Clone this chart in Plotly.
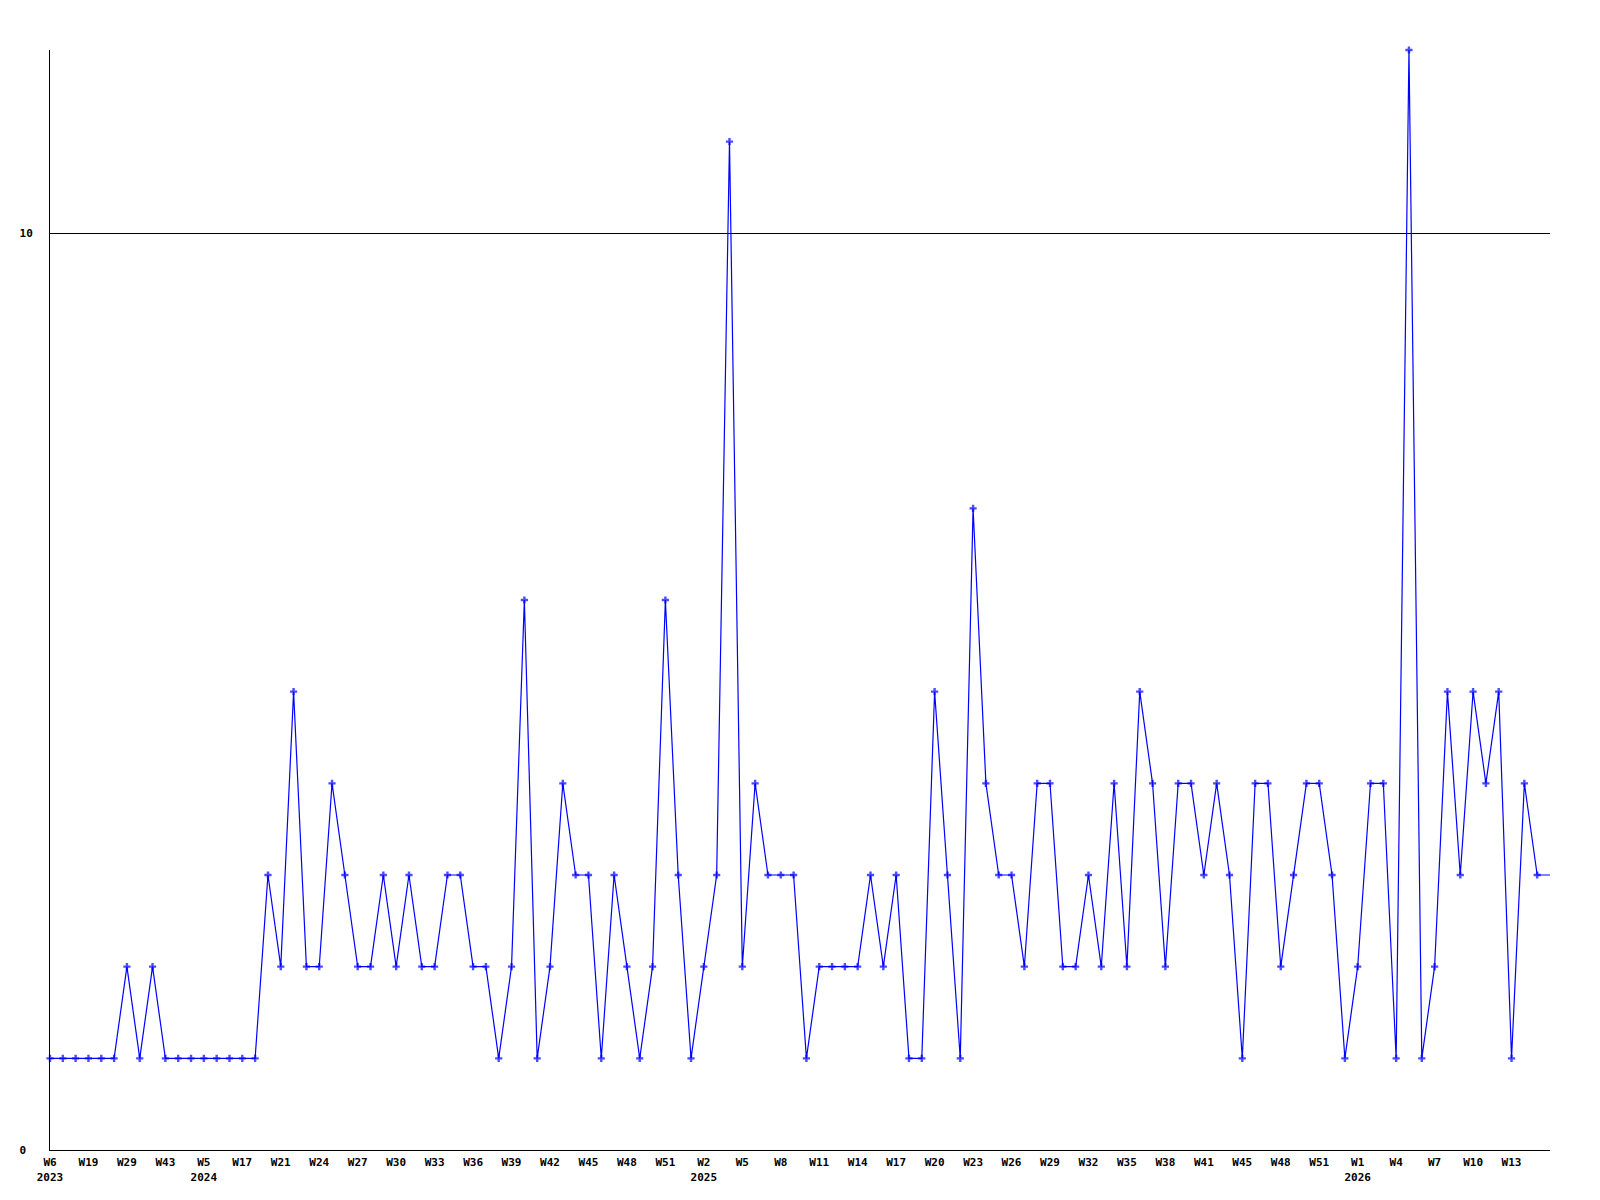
import plotly.graph_objects as go

weeks = [
    "2023-W06", "2023-W11", "2023-W15", "2023-W19", "2023-W22", "2023-W25",
    "2023-W29", "2023-W33", "2023-W38", "2023-W43", "2023-W47", "2023-W50",
    "2024-W05", "2024-W09", "2024-W13", "2024-W17", "2024-W19", "2024-W20",
    "2024-W21", "2024-W22", "2024-W23", "2024-W24", "2024-W25", "2024-W26",
    "2024-W27", "2024-W28", "2024-W29", "2024-W30", "2024-W31", "2024-W32",
    "2024-W33", "2024-W34", "2024-W35", "2024-W36", "2024-W37", "2024-W38",
    "2024-W39", "2024-W40", "2024-W41", "2024-W42", "2024-W43", "2024-W44",
    "2024-W45", "2024-W46", "2024-W47", "2024-W48", "2024-W49", "2024-W50",
    "2024-W51", "2024-W52",
    "2025-W01", "2025-W02", "2025-W03", "2025-W04", "2025-W05", "2025-W06",
    "2025-W07", "2025-W08", "2025-W09", "2025-W10", "2025-W11", "2025-W12",
    "2025-W13", "2025-W14", "2025-W15", "2025-W16", "2025-W17", "2025-W18",
    "2025-W19", "2025-W20", "2025-W21", "2025-W22", "2025-W23", "2025-W24",
    "2025-W25", "2025-W26", "2025-W27", "2025-W28", "2025-W29", "2025-W30",
    "2025-W31", "2025-W32", "2025-W33", "2025-W34", "2025-W35", "2025-W36",
    "2025-W37", "2025-W38", "2025-W39", "2025-W40", "2025-W41", "2025-W42",
    "2025-W44", "2025-W45", "2025-W46", "2025-W47", "2025-W48", "2025-W49",
    "2025-W50", "2025-W51", "2025-W52", "2025-W53",
    "2026-W01", "2026-W02", "2026-W03", "2026-W04", "2026-W05", "2026-W06",
    "2026-W07", "2026-W08", "2026-W09", "2026-W10", "2026-W11", "2026-W12",
    "2026-W13", "2026-W14", "2026-W15", "2026-W16",
]

counts = [
    1, 1, 1, 1, 1, 1, 2, 1, 2, 1,
    1, 1, 1, 1, 1, 1, 1, 3, 2, 5,
    2, 2, 4, 3, 2, 2, 3, 2, 3, 2,
    2, 3, 3, 2, 2, 1, 2, 6, 1, 2,
    4, 3, 3, 1, 3, 2, 1, 2, 6, 3,
    1, 2, 3, 11, 2, 4, 3, 3, 3, 1,
    2, 2, 2, 2, 3, 2, 3, 1, 1, 5,
    3, 1, 7, 4, 3, 3, 2, 4, 4,
    2, 2, 3, 2, 4, 2, 5, 4, 2, 4,
    4, 3, 4, 3, 1, 4, 4, 2, 3, 4,
    4, 3, 1, 2, 4, 4, 1, 12, 1, 2,
    5, 3, 5, 4, 5, 1, 4, 3, 3,
]

tick_weeks = [
    "2023-W06", "2023-W19", "2023-W29", "2023-W43", "2024-W05", "2024-W17",
    "2024-W21", "2024-W24", "2024-W27", "2024-W30", "2024-W33", "2024-W36",
    "2024-W39", "2024-W42", "2024-W45", "2024-W48", "2024-W51", "2025-W02",
    "2025-W05", "2025-W08", "2025-W11", "2025-W14", "2025-W17", "2025-W20",
    "2025-W23", "2025-W26", "2025-W29", "2025-W32", "2025-W35", "2025-W38",
    "2025-W41", "2025-W45", "2025-W48", "2025-W51", "2026-W01", "2026-W04",
    "2026-W07", "2026-W10", "2026-W13",
]
tick_text = [
    "W6<br>2023", "W19", "W29", "W43", "W5<br>2024", "W17",
    "W21", "W24", "W27", "W30", "W33", "W36",
    "W39", "W42", "W45", "W48", "W51", "W2<br>2025",
    "W5", "W8", "W11", "W14", "W17", "W20",
    "W23", "W26", "W29", "W32", "W35", "W38",
    "W41", "W45", "W48", "W51", "W1<br>2026", "W4",
    "W7", "W10", "W13",
]

y_ticks = [0, 10]
y_tick_text = ["0\u00a0", "10"]

# last (current, partial) week is drawn without a marker
marker_sizes = [6] * (len(counts) - 1) + [0]

FONT = dict(family="DejaVu Sans Mono", size=11, color="black", weight="bold")

fig = go.Figure()
fig.add_trace(go.Scatter(
    x=weeks,
    y=counts,
    mode="lines+markers",
    line=dict(color="#0000ff", width=1.2),
    marker=dict(symbol="cross", size=marker_sizes, color="#0000ff", line=dict(width=0)),
    cliponaxis=False,
    hoverinfo="x+y",
))

# page body has an 8px margin, so the figure is offset by 8px
fig.update_layout(
    width=1580,
    height=1180,
    margin=dict(l=42, r=38, t=42, b=38),
    paper_bgcolor="white",
    plot_bgcolor="white",
    showlegend=False,
    font=FONT,
)

fig.update_xaxes(
    type="category",
    categoryorder="array",
    categoryarray=weeks,
    range=[0, len(weeks) - 1],
    tickmode="array",
    tickvals=tick_weeks,
    ticktext=tick_text,
    tickangle=0,
    ticks="",
    showgrid=False,
    showline=True,
    linecolor="black",
    linewidth=1,
    zeroline=False,
    automargin=False,
    tickfont=FONT,
    ticklabelstandoff=2,
)

fig.update_yaxes(
    range=[0, 12],
    tickmode="array",
    tickvals=y_ticks,
    ticktext=y_tick_text,
    ticks="",
    showgrid=True,
    gridcolor="black",
    gridwidth=1,
    showline=True,
    linecolor="black",
    linewidth=1,
    zeroline=False,
    automargin=False,
    tickfont=FONT,
    ticklabelstandoff=14,
)

fig.write_html("out.html")
